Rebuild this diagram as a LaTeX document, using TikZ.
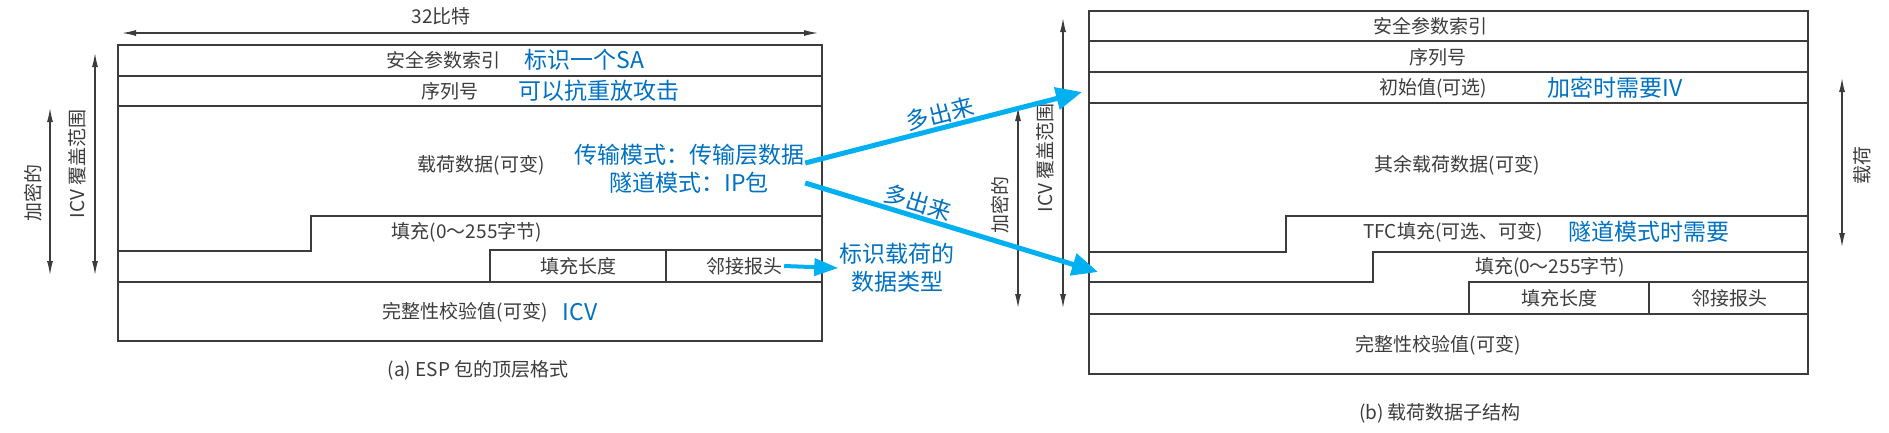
\documentclass[tikz,border=0pt]{standalone}
\usepackage{fontspec}
\setmainfont{Noto Sans CJK SC}
\usetikzlibrary{arrows.meta, positioning}
\definecolor{noteblue}{RGB}{0,112,192}
\definecolor{arrowblue}{RGB}{0,176,240}
\definecolor{scan}{RGB}{60,60,60}
\tikzset{
	frame/.style={draw=scan, line width=1.4pt},
	field/.style={text=scan, inner sep=2pt, font=\fontsize{19}{22}\selectfont},
	note/.style={text=noteblue, inner sep=1pt, font=\fontsize{23}{28}\selectfont},
	% measuring arrows beside the boxes
	rangearrow/.style={draw=scan, line width=1.2pt, <->, >={Latex[length=14pt,width=6pt]}},
	morearrow/.style={draw=arrowblue, line width=5pt, -{Triangle[length=26pt,width=22pt]}},
	typearrow/.style={draw=arrowblue, line width=4pt, -{Triangle[length=24pt,width=17pt]}},
}

\begin{document}
\begin{tikzpicture}[x=1pt, y=-1pt]
	\useasboundingbox (0,0) rectangle (1889,432);
	
	% (a) top level format
	\draw[frame] (118,45) rectangle (822,341);
	\draw[frame] (118,76) -- (822,76) (118,106) -- (822,106);
	\draw[frame] (118,251) -- (311,251) -- (311,216) -- (822,216);
	\draw[frame] (490,282) -- (490,250) -- (822,250) (666,250) -- (666,282);
	\draw[frame] (118,282) -- (822,282);
	
	\node (spi) [field] at (443,60) {安全参数索引};
	\node (seq) [field] at (450,91) {序列号};
	\node (pay) [field] at (481,165) {载荷数据(可变)};
	\node (pad) [field] at (467,232) {填充(0～255字节)};
	\node (padlen) [field] at (578,266) {填充长度};
	\node (nxt) [field] at (744,266) {邻接报头};
	\node (icv) [field] at (465,312) {完整性校验值(可变)};
	\node (capA) [field] at (478,370) {(a) ESP 包的顶层格式};
	
	\draw[rangearrow] (122,33) -- (818,33);
	\node (bits) [field] at (441,16) {32比特};
	\draw[rangearrow] (50,108) -- (50,275);
	\draw[rangearrow] (95,53) -- (95,275);
	\node (encA) [field, rotate=90] at (33,193) {加密的};
	\node (covA) [field, rotate=90] at (77,164) {ICV 覆盖范围};
	
	% (b) payload substructure
	\draw[frame] (1089,11) rectangle (1808,374);
	\draw[frame] (1089,41) -- (1808,41) (1089,72) -- (1808,72) (1089,103) -- (1808,103);
	\draw[frame] (1089,252) -- (1286,252) -- (1286,216) -- (1808,216);
	\draw[frame] (1089,282) -- (1373,282) -- (1373,252) -- (1808,252);
	\draw[frame] (1469,314) -- (1469,282) -- (1808,282) (1649,282) -- (1649,314);
	\draw[frame] (1089,314) -- (1808,314);
	
	\node (spiB) [field] at (1430,26) {安全参数索引};
	\node (seqB) [field] at (1438,57) {序列号};
	\node (iv) [field] at (1433,88) {初始值(可选)};
	\node (rest) [field] at (1457,165) {其余载荷数据(可变)};
	\node (tfc) [field] at (1453,232) {TFC填充(可选、可变)};
	\node (padB) [field] at (1550,267) {填充(0～255字节)};
	\node (padlenB) [field] at (1559,298) {填充长度};
	\node (nxtB) [field] at (1729,298) {邻接报头};
	\node (icvB) [field] at (1438,345) {完整性校验值(可变)};
	\node (capB) [field] at (1440,413) {(b) 载荷数据子结构};
	
	\draw[rangearrow] (1018,107) -- (1018,308);
	\draw[rangearrow] (1063,18) -- (1063,308);
	\draw[rangearrow] (1842,78) -- (1842,247);
	\node (encB) [field, rotate=90] at (1000,205) {加密的};
	\node (covB) [field, rotate=90] at (1045,158) {ICV 覆盖范围};
	\node (payB) [field, rotate=90] at (1862,165) {载荷};
	
	% notes
	\node (noteSA) [note, right=21pt of spi] {标识一个SA};
	\node (noteSeq) [note, right=37pt of seq] {可以抗重放攻击};
	\node (modes) [note, align=center] at (689,169) {传输模式：传输层数据\\隧道模式：IP包};
	\node (noteICV) [note, right=12pt of icv] {ICV};
	\node (noteNxt) [note, align=center] at (897,268) {标识载荷的\\数据类型};
	\node (noteIV) [note, right=57pt of iv] {加密时需要IV};
	\node (noteTun) [note, right=22pt of tfc] {隧道模式时需要};
	
	\coordinate (ivin) at (1082,92);
	\coordinate (tfcin) at (1098,272);
	\draw[morearrow] ([yshift=6pt]modes.east) -- (ivin) node[midway, above, sloped, note] {多出来};
	\draw[morearrow] ([yshift=-14pt]modes.east) -- (tfcin) node[pos=0.37, above, sloped, note] {多出来};
	\draw[typearrow] (nxt.east) -- (noteNxt.west);
\end{tikzpicture}
\end{document}
